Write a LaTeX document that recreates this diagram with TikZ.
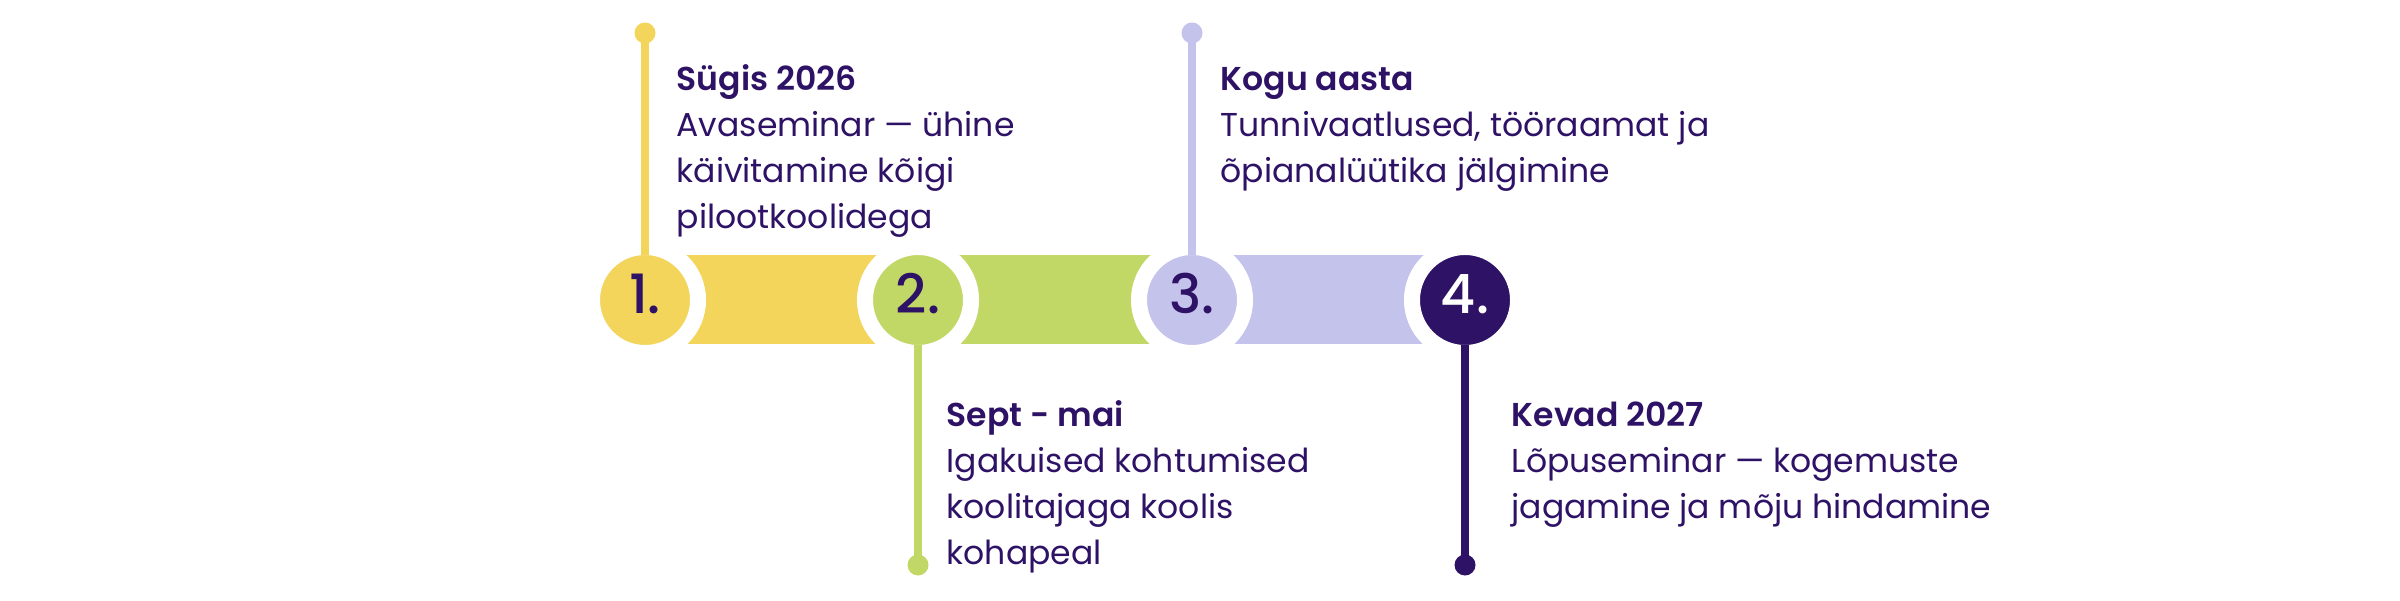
\documentclass[tikz,border=0pt]{standalone}
\usepackage{fontspec}
\setmainfont{Poppins}[BoldFont={Poppins SemiBold}]
\newfontfamily\stagefont{Poppins Medium}
\usetikzlibrary{positioning,calc}

\definecolor{sunY}{RGB}{243,213,91}
\definecolor{leafG}{RGB}{193,216,102}
\definecolor{lilac}{RGB}{196,195,236}
\definecolor{ink}{RGB}{46,18,101}

\tikzset{
    stage/.style = {circle, inner sep=0pt, outer sep=0pt, minimum size=1.06cm,
                    draw=white, line width=0.16cm, text=ink,
                    font=\stagefont\fontsize{15.4}{18}\selectfont,
                    text height=0.38cm, text depth=0.12cm},
    stem/.style  = {line width=0.08cm, shorten <=-0.08cm},
    dot/.style   = {radius=0.105cm},
    info/.style  = {anchor=base west, align=left, inner sep=0pt, text=ink,
                    font=\fontsize{9.4}{13.1}\selectfont}
}

\begin{document}
\begin{tikzpicture}[x=0.01cm, y=0.01cm]
    \useasboundingbox (0,0) rectangle (2400,600);

    % ---------- stage centres and stem ends ----------
    \coordinate (p1) at (645,300);
    \coordinate (p2) at (918,300);
    \coordinate (p3) at (1192,300);
    \coordinate (p4) at (1465,300);

    \coordinate (d1) at (645,567);
    \coordinate (d2) at (918,35);
    \coordinate (d3) at (1192,567);
    \coordinate (d4) at (1465,35);

    % ---------- bars between stages ----------
    \fill[sunY]  ($(p1)+(0,-44.5)$) rectangle ($(p2)+(0,44.5)$);
    \fill[leafG] ($(p2)+(0,-44.5)$) rectangle ($(p3)+(0,44.5)$);
    \fill[lilac] ($(p3)+(0,-44.5)$) rectangle ($(p4)+(0,44.5)$);

    % ---------- stage discs ----------
    \node[stage, fill=sunY]  (s1) at (p1) {1.};
    \node[stage, fill=leafG] (s2) at (p2) {2.};
    \node[stage, fill=lilac] (s3) at (p3) {3.};
    \node[stage, fill=ink, text=white] (s4) at (p4) {4.};

    % ---------- stems ----------
    \draw[stem, sunY]  (s1.north) -- (d1);
    \draw[stem, leafG] (s2.south) -- (d2);
    \draw[stem, lilac] (s3.north) -- (d3);
    \draw[stem, ink]   (s4.south) -- (d4);
    \fill[sunY]  (d1) circle[dot];
    \fill[leafG] (d2) circle[dot];
    \fill[lilac] (d3) circle[dot];
    \fill[ink]   (d4) circle[dot];

    % ---------- texts (anchored on the last line) ----------
    \node[info] (t1) at (676,371)
      {\textbf{Sügis 2026}\\Avaseminar — ühine\\käivitamine kõigi\\pilootkoolidega};
    \node[info] (t2) at (946,35)
      {\textbf{Sept - mai}\\Igakuised kohtumised\\koolitajaga koolis\\kohapeal};
    \node[info] (t3) at (1220,417)
      {\textbf{Kogu aasta}\\Tunnivaatlused, tööraamat ja\\õpianalüütika jälgimine};
    \node[info] (t4) at (1511,81)
      {\textbf{Kevad 2027}\\Lõpuseminar — kogemuste\\jagamine ja mõju hindamine};

\end{tikzpicture}
\end{document}
